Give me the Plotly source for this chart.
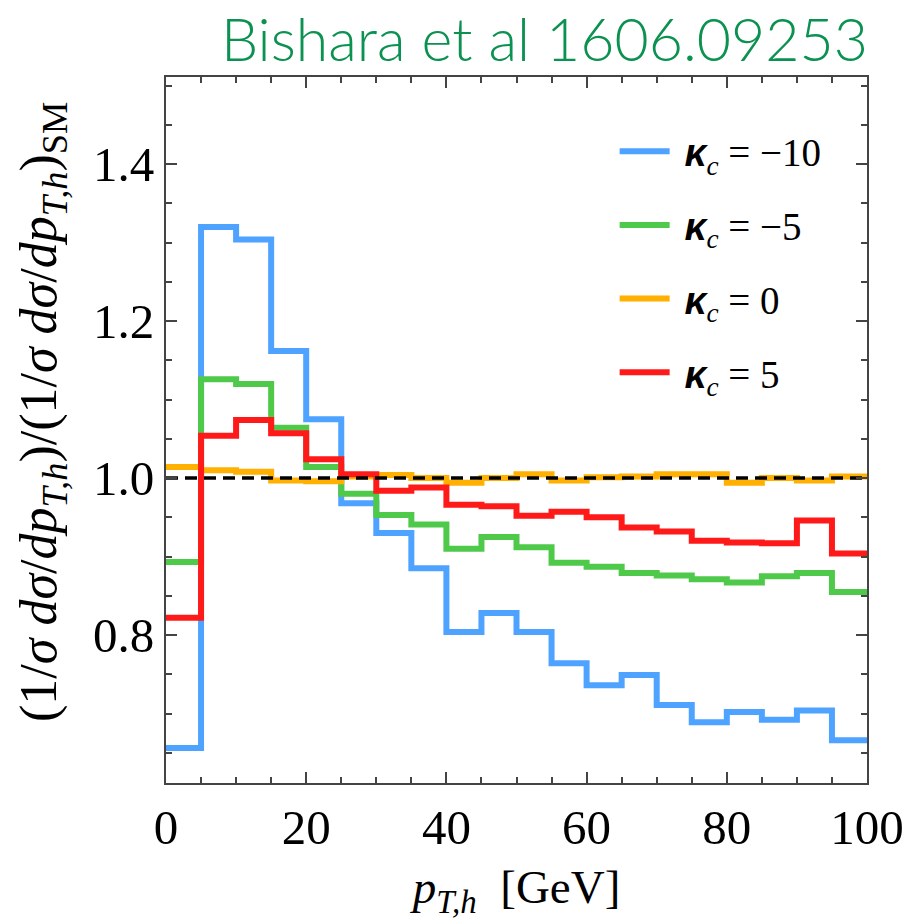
import plotly.graph_objects as go

bin_edges = [0, 5, 10, 15, 20, 25, 30, 35, 40, 45, 50, 55, 60, 65, 70, 75, 80, 85, 90, 95, 100]

kappa_m10 = [0.656, 1.320, 1.304, 1.162, 1.075, 0.968, 0.930, 0.885, 0.804, 0.828,
             0.804, 0.764, 0.736, 0.749, 0.711, 0.689, 0.702, 0.692, 0.704, 0.666]
kappa_m5 = [0.893, 1.126, 1.120, 1.064, 1.014, 0.980, 0.953, 0.941, 0.910, 0.925,
            0.912, 0.892, 0.887, 0.879, 0.876, 0.871, 0.867, 0.875, 0.879, 0.855]
kappa_0 = [1.014, 1.010, 1.008, 0.997, 0.996, 1.002, 1.004, 1.000, 0.994, 1.000,
           1.005, 0.997, 1.001, 1.002, 1.005, 1.005, 0.994, 1.000, 0.997, 1.002]
kappa_p5 = [0.822, 1.054, 1.074, 1.057, 1.024, 1.005, 0.984, 0.988, 0.966, 0.964,
            0.952, 0.957, 0.950, 0.937, 0.932, 0.920, 0.918, 0.917, 0.946, 0.904]

series_names = ["−10", "−5", "0", "5"]
series_values = [kappa_m10, kappa_m5, kappa_0, kappa_p5]
series_colors = ["#4da3ff", "#4fc94a", "#ffb000", "#ff1a1a"]

x_ticks = [0, 20, 40, 60, 80, 100]
y_ticks = [0.8, 1.0, 1.2, 1.4]

fig = go.Figure()
for i, (name, vals, col) in enumerate(zip(series_names, series_values, series_colors)):
    fig.add_trace(go.Scatter(
        x=bin_edges, y=vals + [vals[-1]],
        mode="lines", line=dict(color=col, width=6, shape="hv"),
        name=("\u00a0<span style='font-family:Liberation Sans'><b><i>κ</i></b></span>"
              "<sub><i>c</i></sub> = " + name),
        legendgroup="g%d" % i,
    ))

fig.add_trace(go.Scatter(
    x=[bin_edges[0], bin_edges[-1]], y=[1.0, 1.0], mode="lines",
    line=dict(color="black", width=3.5, dash="12px,7px"), showlegend=False,
))

axis_common = dict(
    showline=True, linecolor="#444", linewidth=2, mirror="ticks",
    ticks="inside", ticklen=11, tickwidth=2, tickcolor="#444",
    showgrid=False, zeroline=False,
    tickfont=dict(family="Liberation Serif", size=49, color="black"),
)

fig.update_xaxes(
    range=[0, 100], tickvals=x_ticks, ticktext=[str(v) for v in x_ticks],
    minor=dict(dtick=5, ticks="inside", ticklen=6, tickwidth=1.5, tickcolor="#444"),
    title=dict(text="<i>p</i><sub><i>T,h</i></sub>  [GeV]",
               font=dict(family="Liberation Serif", size=47, color="black"), standoff=16),
    **axis_common,
)
fig.update_yaxes(
    range=[0.6115, 1.511], tickvals=y_ticks, ticktext=["%.1f" % v for v in y_ticks],
    minor=dict(dtick=0.05, ticks="inside", ticklen=6, tickwidth=1.5, tickcolor="#444"),
    **axis_common,
)

fig.add_annotation(
    text="(1/<i>σ dσ</i>/<i>dp</i><sub><i>T,h</i></sub>)/(1/<i>σ dσ</i>/<i>dp</i><sub><i>T,h</i></sub>)<sub>SM</sub>",
    xref="paper", yref="paper", x=-0.176, y=0.525, xanchor="center", yanchor="middle",
    textangle=-90, showarrow=False,
    font=dict(family="Liberation Serif", size=52, color="black"),
)

fig.add_annotation(
    text="Bishara et al 1606.09253", xref="paper", yref="paper",
    x=1.004, y=1.055, xanchor="right", yanchor="middle", showarrow=False,
    font=dict(family="Lato", size=59, color="#0b9150", weight=300),
)

fig.update_layout(
    width=916, height=924,
    margin=dict(l=166, r=45, t=77, b=141),
    plot_bgcolor="white", paper_bgcolor="white",
    legend=dict(x=0.64, y=0.94, xanchor="left", yanchor="top",
                font=dict(family="Liberation Serif", size=39, color="black"),
                bgcolor="rgba(0,0,0,0)", itemwidth=50, tracegroupgap=20),
)

fig.write_html("out.html")
